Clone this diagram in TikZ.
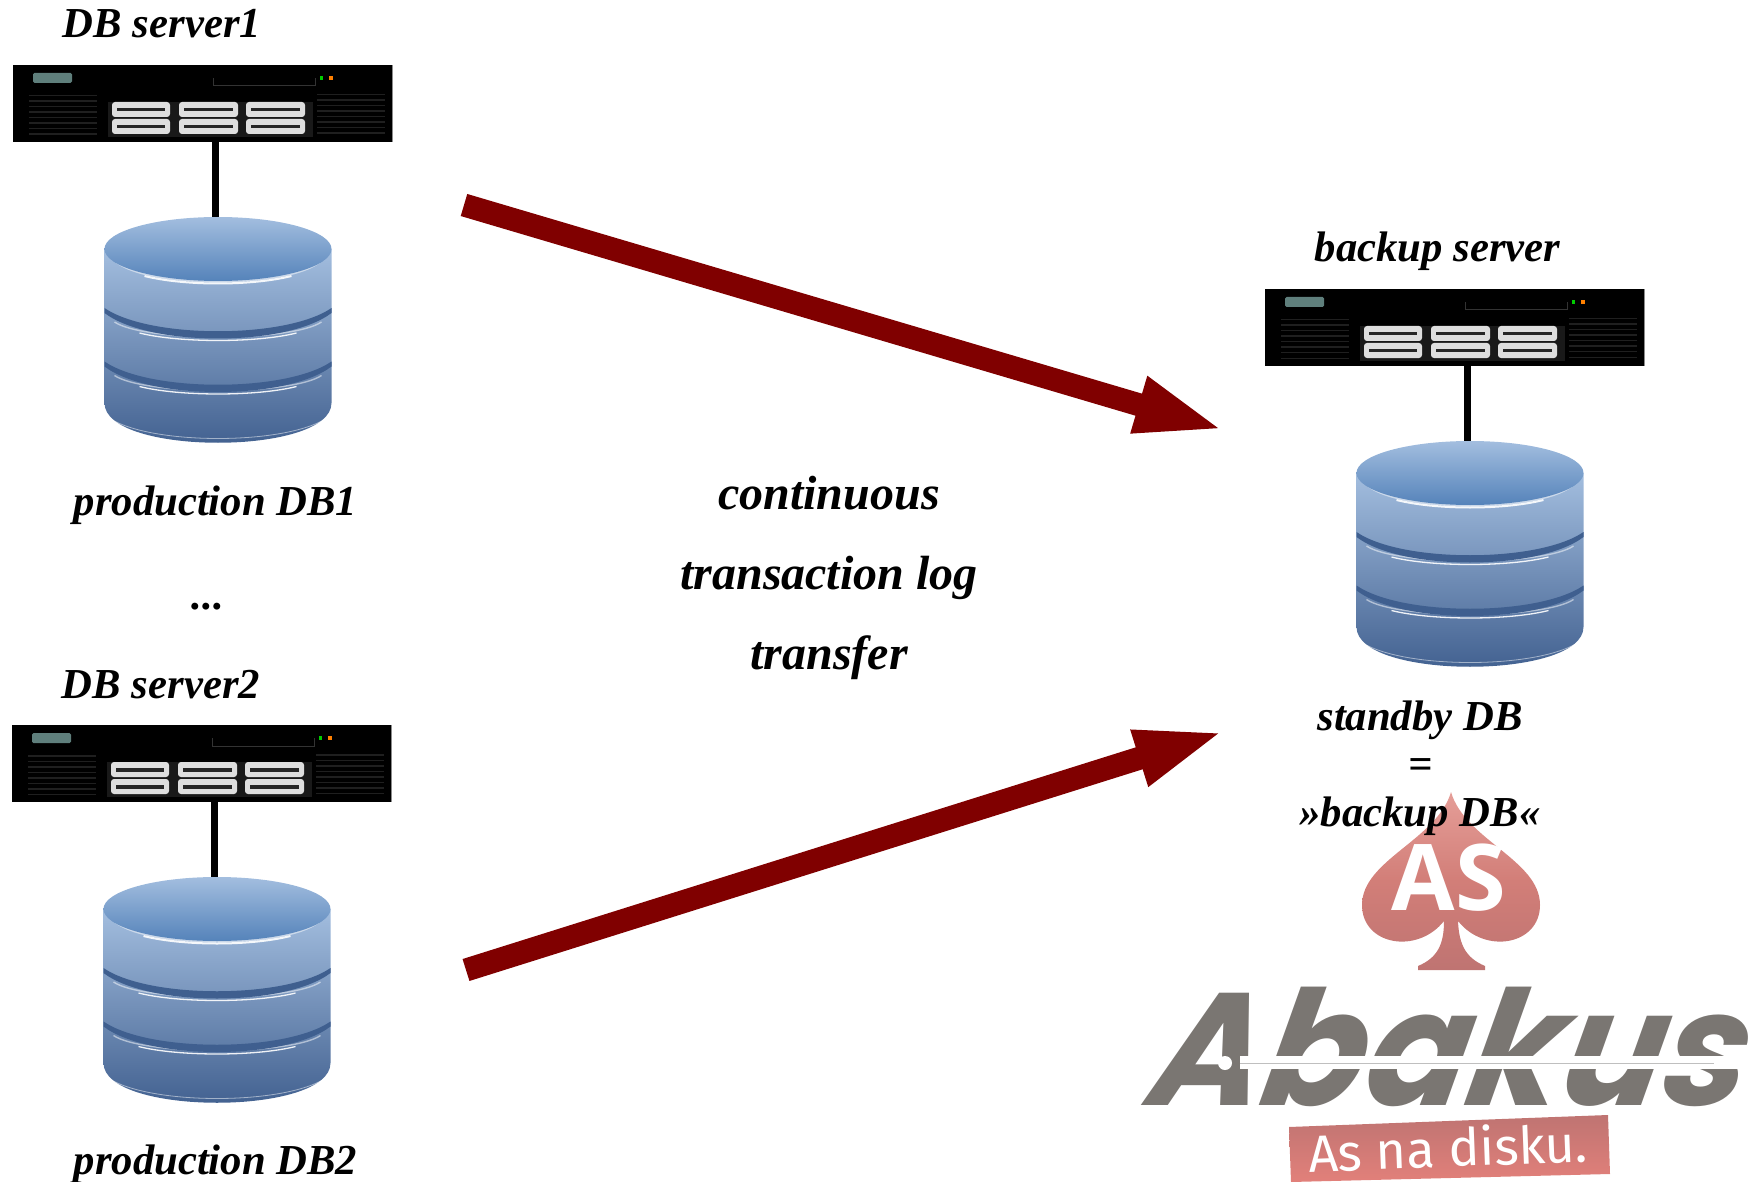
\documentclass[tikz,border=0pt]{standalone}
\usepackage{fontspec}
\setmainfont{Liberation Serif}
\newfontfamily\logofont{Poppins}
\newfontfamily\spadefont{Open Sans}
\newfontfamily\bannerfont{Fira Sans}
\usetikzlibrary{
  arrows.meta,
  positioning,
  calc
}
\definecolor{logred}{HTML}{800000}
\definecolor{logogray}{HTML}{7A7672}
\definecolor{ledteal}{HTML}{5F7F7C}
\definecolor{dbtop}{HTML}{A3BEDF}
\definecolor{dbbottom}{HTML}{3D5C8C}
\definecolor{dblid}{HTML}{5583BA}
\definecolor{dbband}{HTML}{3F5F8F}
\definecolor{spadelight}{HTML}{E59E98}
\definecolor{spademid}{HTML}{D27E78}
\definecolor{spadelow}{HTML}{BF7472}
\definecolor{bannerlow}{HTML}{E2807A}

\begin{document}
\begin{tikzpicture}[
    x=1pt,
    y=-1pt,
    caption/.style={
        font=\fontsize{42.7}{50}\selectfont\bfseries\itshape,
        inner sep=0pt,
        anchor=base
    },
    biglabel/.style={
        font=\fontsize{48}{56}\selectfont\bfseries\itshape,
        inner sep=0pt,
        anchor=base
    },
    link/.style={line width=7pt, black},
    transfer/.style={
        line width=23pt,
        logred,
        -{Triangle[length=91pt,width=52pt]}
    },
    rackserver/.pic={
        \fill[black] (0,0) rectangle (380,77);
        \fill[black!45] (379,0) rectangle (380,77);
        \fill[fill=ledteal, rounded corners=1.5pt] (20,8) rectangle (59,18);
        \draw[black!80, line width=1pt] (200,13) -- (200,21) -- (302,21) -- (302,13);
        \fill[green!80!black] (306.5,11) rectangle (310,15);
        \fill[orange] (316,11) rectangle (319.5,15);
        \foreach \ventrow in {0,...,7} {
            \fill[black!88] (16,{30+5.5*\ventrow}) rectangle (84,{31.5+5.5*\ventrow});
            \fill[black!88] (304,{29+5.5*\ventrow}) rectangle (372,{30.5+5.5*\ventrow});
        }
        \fill[black!90] (95,37) rectangle (300,72);
        \foreach \bayx/\bayend in {99/157,166/225,233/292} {
            \foreach \bayy in {37,54} {
                \fill[black!13, rounded corners=3pt] (\bayx,\bayy) rectangle (\bayend,\bayy+15);
                \fill[black!85] (\bayx+5,\bayy+6) rectangle (\bayend-5,\bayy+9.5);
            }
        }
        \coordinate (-base) at (202.5,77);
    },
    dbstack/.pic={
        % body
        \shade[top color=dbtop, bottom color=dbbottom]
            (0,32) -- (0,186) .. controls (0,239) and (227,239) .. (227,186) -- (227,32) -- cycle;
        % dark bands with a white rim below them
        \foreach \bandy in {91,144.5} {
            \draw[white, opacity=.5, line width=1.4pt] (10,{\bandy+14}) .. controls (40,{\bandy+34}) and (187,{\bandy+34}) .. (217,{\bandy+14});
            \draw[white, opacity=.9, line width=1.3pt] (35,{\bandy+25}) .. controls (75,{\bandy+35}) and (152,{\bandy+35}) .. (192,{\bandy+25});
            \fill[dbband] (0,\bandy) .. controls (45,{\bandy+31}) and (182,{\bandy+31}) .. (227,\bandy)
                -- (227,{\bandy+5}) .. controls (182,{\bandy+39}) and (45,{\bandy+39}) .. (0,{\bandy+5}) -- cycle;
        }
        % lid
        \draw[white, opacity=.5, line width=2.2pt] (12,45) .. controls (45,71) and (182,71) .. (215,45);
        \draw[white, opacity=.9, line width=2pt] (40,59) .. controls (80,69) and (147,69) .. (187,59);
        \shade[top color=dbtop, bottom color=dblid] (113.5,32) ellipse [x radius=113.5, y radius=32];
        % lower rim
        \draw[white, opacity=.5, line width=.8pt] (2,199) .. controls (40,229) and (187,229) .. (225,199);
        \coordinate (-top) at (111,0);
    }
]

\useasboundingbox (0,0) rectangle (1762,1182);

% ----------------------------------------------------------
% SERVERS AND DATABASES
% ----------------------------------------------------------

\pic (srvone) at (13,65) {rackserver};
\pic (dbone) at (104.5,217) {dbstack};
\pic (srvtwo) at (12,725) {rackserver};
\pic (dbtwo) at (103.5,877) {dbstack};
\pic (srvbackup) at (1265,289) {rackserver};
\pic (dbbackup) at (1356.5,441) {dbstack};

\draw[link] (srvone-base) -- (dbone-top);
\draw[link] (srvtwo-base) -- (dbtwo-top);
\draw[link] (srvbackup-base) -- (dbbackup-top);

% ----------------------------------------------------------
% LOGO
% ----------------------------------------------------------

\shade[top color=spadelight, bottom color=spadelow, middle color=spademid]
    (1451,792) .. controls (1437,840) and (1362,860) .. (1362,905)
    .. controls (1362,945) and (1417,955) .. (1444,921)
    .. controls (1444,945) and (1437,958) .. (1418,966)
    -- (1418,970) -- (1485,970) -- (1485,966)
    .. controls (1466,958) and (1459,945) .. (1458,921)
    .. controls (1485,955) and (1540,945) .. (1540,905)
    .. controls (1540,860) and (1465,840) .. (1451,792) -- cycle;
\node[font=\fontsize{92}{92}\selectfont\spadefont\bfseries, text=white, inner sep=0pt] (spadetext) at (1449,878) {AS};

\shade[top color=spadelow, bottom color=bannerlow]
    (1289,1127) -- (1608,1115) -- (1610,1174) -- (1291,1182) -- cycle;
\node[font=\fontsize{52}{52}\selectfont\bannerfont, text=white, inner sep=0pt, rotate=2.2] (bannertext) at (1448,1147) {As na disku.};

\node[font=\fontsize{160}{160}\selectfont\logofont\bfseries\itshape, text=logogray, inner sep=0pt, anchor=base west, transform shape, xscale=.945, xslant=.2] (abakus) at (1146,1105) {Abakus};
\fill[white] (1240,1056) rectangle (1745,1069);
\draw[black!25, line width=1pt] (1240,1063) -- (1714,1063);
\fill[white] (1225,1063) circle [radius=7];

% ----------------------------------------------------------
% LABELS
% ----------------------------------------------------------

\node[caption] (srvonetext) at (162,38) {DB server1};
\node[caption] (prodonetext) at (215.5,515) {production DB1};
\node[caption] (dotstext) at (208,609) {...};
\node[caption] (srvtwotext) at (161,698) {DB server2};
\node[caption] (prodtwotext) at (215.5,1174) {production DB2};
\node[caption] (backuptext) at (1437.5,262) {backup server};
\node[caption] (standbytext) at (1420,730) {standby DB};
\node[caption] (equaltext) at (1421,778) {=};
\node[caption] (backupdbtext) at (1420,826) {»backup DB«};

\node[biglabel] (contitext) at (829,509) {continuous};
\node[biglabel] (logtext) at (829,589) {transaction log};
\node[biglabel] (transfertext) at (829,669) {transfer};

% ----------------------------------------------------------
% ARROWS
% ----------------------------------------------------------

\coordinate (upstart) at (464,205);
\coordinate (uptip) at (1226,430.5);
\coordinate (lowstart) at (466,970);
\coordinate (lowtip) at (1226,731);

\draw[transfer] (upstart) -- (uptip);
\draw[transfer] (lowstart) -- (lowtip);

\end{tikzpicture}
\end{document}
